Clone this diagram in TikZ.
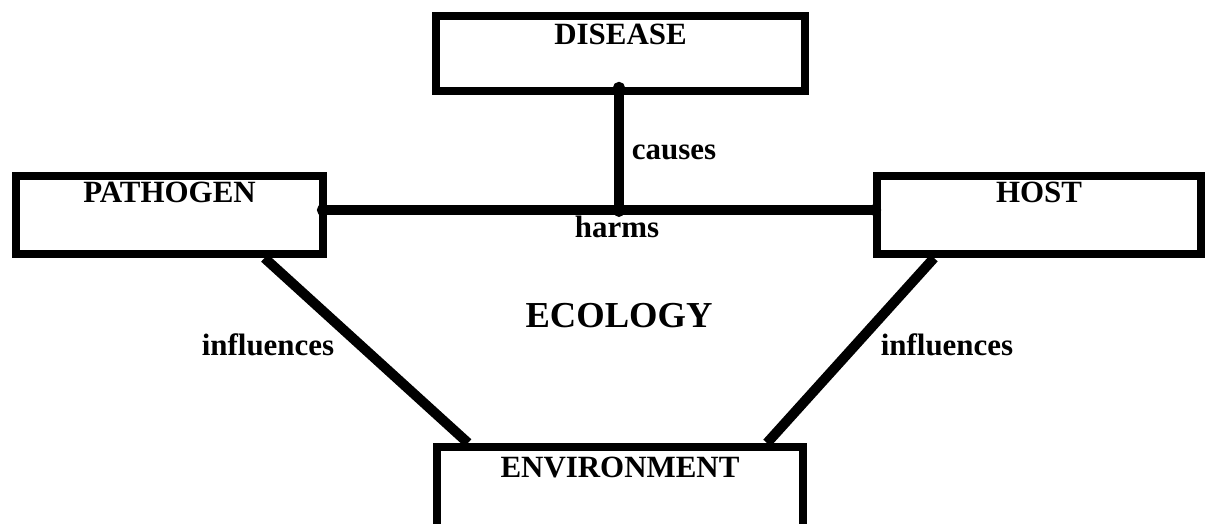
\documentclass[tikz,border=0pt]{standalone}
\usepackage{fontspec}
\setmainfont{Liberation Serif}
\usetikzlibrary{arrows.meta, positioning, calc}

\begin{document}
\begin{tikzpicture}[
  x=0.025cm, y=-0.025cm,
  box/.style={draw, fill=white, line width=0.2cm, inner sep=0pt,
              font=\bfseries\fontsize{22}{26}\selectfont},
  lbl/.style={anchor=base, inner sep=0pt,
              font=\bfseries\fontsize{22}{26}\selectfont},
  link/.style={line width=0.25cm},
  dotlink/.style={line width=0.225cm,
                  {Circle[length=0.3cm]}-{Circle[length=0.3cm]}}
]
  \useasboundingbox (0,0) rectangle (1209,524);

  \node[box, minimum width=9.225cm, minimum height=1.875cm,
        text height=0.725cm, text depth=1.15cm] (DISEASE) at (620.5,53.5) {DISEASE};
  \node[box, minimum width=7.675cm, minimum height=1.95cm,
        text height=0.675cm, text depth=1.275cm] (PATHOGEN) at (169.5,215) {PATHOGEN};
  \node[box, minimum width=8.1cm, minimum height=1.95cm,
        text height=0.675cm, text depth=1.275cm] (HOST) at (1039,215) {HOST};
  \node[box, minimum width=9.15cm, minimum height=2.075cm,
        text height=0.775cm, text depth=1.3cm] (ENVIRONMENT) at (620,488.5) {ENVIRONMENT};

  \coordinate (mid) at (619,212);

  \draw[link] ($(PATHOGEN.south)+(95,0)$) -- ($(ENVIRONMENT.north)+(-152,0)$);
  \draw[link] ($(HOST.south)+(-105,0)$) -- ($(ENVIRONMENT.north)+(147,0)$);
  \draw[dotlink] ($(PATHOGEN.east)+(-10,-5)$) -- ($(HOST.west)+(8,-5)$);
  \draw[link, line cap=round, {Circle[length=0.3cm]}-] ($(DISEASE.south)+(-1.5,-13)$) -- (mid);

  \node[lbl] (causes) at (674,160) {causes};
  \node[lbl] (harms) at (617,238) {harms};
  \node[lbl, font=\bfseries\fontsize{26}{30}\selectfont] (ecology) at (619,327) {ECOLOGY};
  \node[lbl] (infl) at (268,355) {influences};
  \node[lbl] (infr) at (947,355) {influences};
\end{tikzpicture}
\end{document}
